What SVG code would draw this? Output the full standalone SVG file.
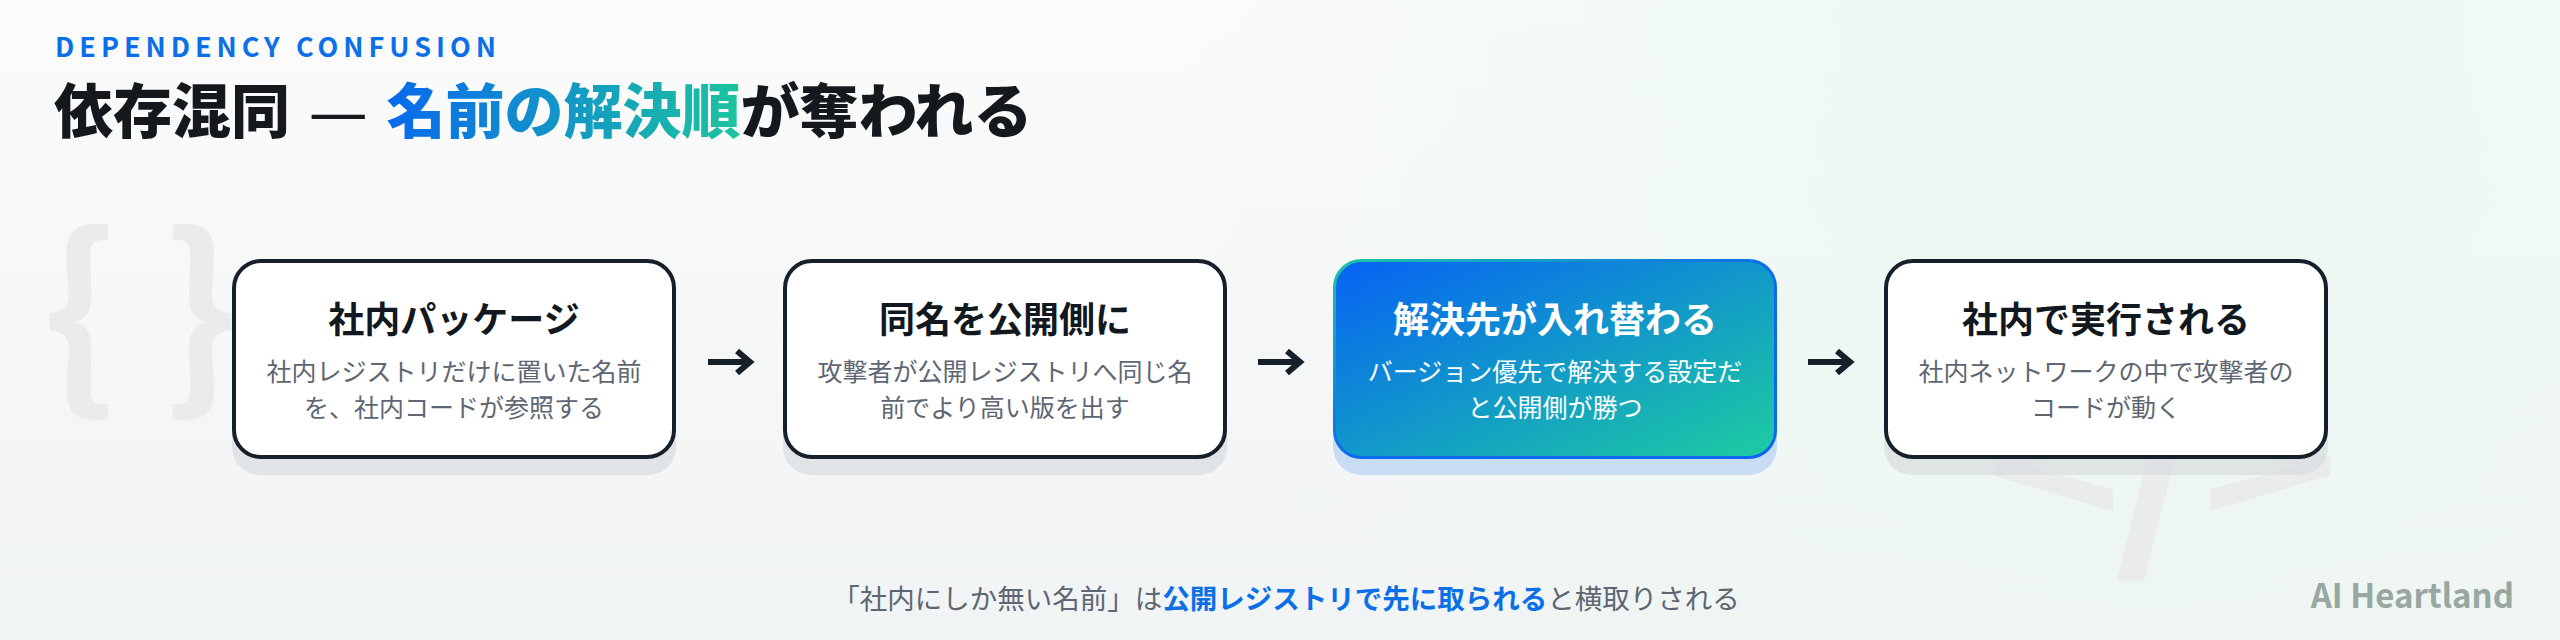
<svg xmlns="http://www.w3.org/2000/svg" width="2560" height="640" viewBox="0 0 2560 640">
<defs>
<linearGradient id="bg" x1="0" y1="0" x2="0" y2="1">
<stop offset="0" stop-color="#fbfbfb"/>
<stop offset="1" stop-color="#f1f4f4"/>
</linearGradient>
<radialGradient id="glow" cx="2150" cy="0" r="1000" gradientUnits="userSpaceOnUse">
<stop offset="0" stop-color="#e8f8f0" stop-opacity="0.9"/>
<stop offset="1" stop-color="#e8f8f0" stop-opacity="0"/>
</radialGradient>
<linearGradient id="tg" x1="382" y1="0" x2="740" y2="0" gradientUnits="userSpaceOnUse">
<stop offset="0" stop-color="#0868ee"/>
<stop offset="1" stop-color="#1cc49e"/>
</linearGradient>
<linearGradient id="hl" x1="0" y1="0" x2="1" y2="1">
<stop offset="0" stop-color="#0662f4"/>
<stop offset="1" stop-color="#1dcda0"/>
</linearGradient>
<linearGradient id="hls" x1="0" y1="0" x2="1" y2="1">
<stop offset="0" stop-color="#1fc4a4"/>
<stop offset="0.5" stop-color="#0a6cee"/>
<stop offset="1" stop-color="#0a66f0"/>
</linearGradient>
<style>
.jp{font-family:"Noto Sans CJK JP","Noto Sans",sans-serif;}
.label{font-size:27px;font-weight:700;fill:#0b6fe8;letter-spacing:5px;}
.title{font-size:59px;font-weight:900;fill:#15191e;}
.dash{font-family:"DejaVu Sans",sans-serif;font-weight:400;}
.nt{font-size:36px;font-weight:700;fill:#121820;text-anchor:middle;}
.nd{font-size:25px;font-weight:400;fill:#5d6672;text-anchor:middle;}
.box{fill:#ffffff;stroke:#16202b;stroke-width:4;}
.shadow{fill:#d9dee0;fill-opacity:0.75;}
.deco{fill:#e9eceb;font-weight:700;}
.arrow{fill:none;stroke:#16202b;stroke-width:6;}
.foot{font-size:27.5px;fill:#5d6672;text-anchor:middle;}
</style>
</defs>
<rect width="2560" height="640" fill="url(#bg)"/>
<rect width="2560" height="640" fill="url(#glow)"/>
<g id="decorations">
<text class="jp deco" x="42" y="385" font-size="200">{ }</text>
<text class="jp deco" transform="translate(2122,534) scale(1.3,1)" x="0" y="0" font-size="180" text-anchor="end">&lt;</text>
<text class="jp deco" x="2167" y="530" font-size="280" text-anchor="middle">/</text>
<text class="jp deco" transform="translate(2201,534) scale(1.3,1)" x="0" y="0" font-size="180">&gt;</text>
</g>
<g id="header">
<text class="jp label" x="55" y="57">DEPENDENCY CONFUSION</text>
<text class="jp title" x="54" y="133">依存混同<tspan class="dash"> — </tspan><tspan fill="url(#tg)">名前の解決順</tspan>が奪われる</text>
</g>
<g id="connectors">
<g transform="translate(730,362)"><path class="arrow" d="M-22 0H19M7-11L20 0L7 11"/></g>
<g transform="translate(1280,362)"><path class="arrow" d="M-22 0H19M7-11L20 0L7 11"/></g>
<g transform="translate(1830,362)"><path class="arrow" d="M-22 0H19M7-11L20 0L7 11"/></g>
</g>
<g id="node1">
<rect class="shadow" x="232" y="275" width="444" height="200" rx="28"/>
<rect class="box" x="234" y="261" width="440" height="196" rx="27"/>
<text class="jp nt" x="454" y="333">社内パッケージ</text>
<text class="jp nd" x="454" y="381">社内レジストリだけに置いた名前</text>
<text class="jp nd" x="454" y="417">を、社内コードが参照する</text>
</g>
<g id="node2">
<rect class="shadow" x="783" y="275" width="444" height="200" rx="28"/>
<rect class="box" x="785" y="261" width="440" height="196" rx="27"/>
<text class="jp nt" x="1005" y="333">同名を公開側に</text>
<text class="jp nd" x="1005" y="381">攻撃者が公開レジストリへ同じ名</text>
<text class="jp nd" x="1005" y="417">前でより高い版を出す</text>
</g>
<g id="node3">
<rect x="1333" y="275" width="444" height="200" rx="28" fill="#c8dcf4"/>
<rect x="1334.5" y="260.5" width="441" height="197" rx="27" fill="url(#hl)" stroke="url(#hls)" stroke-width="3"/>
<text class="jp nt" x="1555" y="333" style="fill:#ffffff">解決先が入れ替わる</text>
<text class="jp nd" x="1555" y="381" style="fill:#ffffff">バージョン優先で解決する設定だ</text>
<text class="jp nd" x="1555" y="417" style="fill:#ffffff">と公開側が勝つ</text>
</g>
<g id="node4">
<rect class="shadow" x="1884" y="275" width="444" height="200" rx="28"/>
<rect class="box" x="1886" y="261" width="440" height="196" rx="27"/>
<text class="jp nt" x="2106" y="333">社内で実行される</text>
<text class="jp nd" x="2106" y="381">社内ネットワークの中で攻撃者の</text>
<text class="jp nd" x="2106" y="417">コードが動く</text>
</g>
<g id="footer">
<text class="jp foot" x="1286" y="609">「社内にしか無い名前」は<tspan font-weight="700" fill="#0b6fe8">公開レジストリで先に取られる</tspan>と横取りされる</text>
<text class="jp" x="2514" y="608" font-size="33" font-weight="700" fill="#98a7a2" text-anchor="end">AI Heartland</text>
</g>
</svg>
